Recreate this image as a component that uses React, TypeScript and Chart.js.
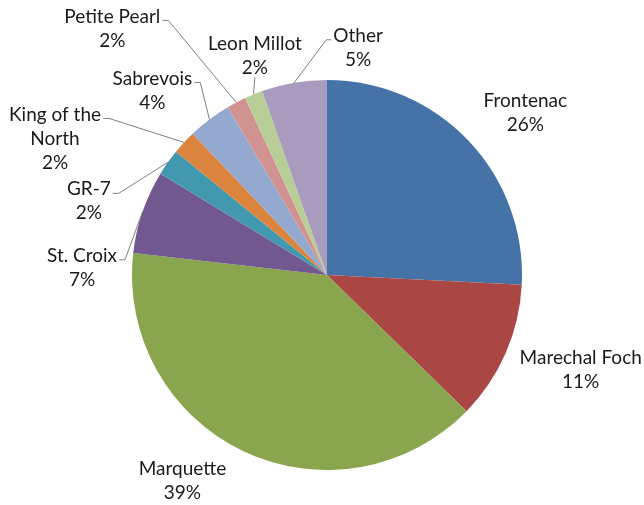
import React, { useEffect, useRef } from "react";
import { Chart, registerables } from "chart.js";

Chart.register(...registerables);

// ---- data ----
const categories = [
  "Frontenac",
  "Marechal Foch",
  "Marquette",
  "St. Croix",
  "GR-7",
  "King of the North",
  "Sabrevois",
  "Petite Pearl",
  "Leon Millot",
  "Other",
];
// slice sizes as drawn (percent of circle)
const shares = [25.8, 11.5, 39.5, 6.9, 2.2, 2.0, 3.6, 1.6, 1.5, 5.4];
// percentage labels as printed on the chart
const percentLabels = ["26%", "11%", "39%", "7%", "2%", "2%", "4%", "2%", "2%", "5%"];

// ---- styling / layout ----
const colors = [
  "#4572A7",
  "#AA4643",
  "#89A54E",
  "#71588F",
  "#4198AF",
  "#DB843D",
  "#93A9CF",
  "#D19392",
  "#B9CD96",
  "#A99BBD",
];
const nameLines: string[][] = categories.map((c) =>
  c === "King of the North" ? ["King of the", "North"] : [c]
);
// offset of label block centre from the slice's outer mid point
const labelOffsets: [number, number][] = [
  [57, -28],
  [75, 17],
  [-61, 30],
  [-60.5, 56],
  [-79, 39],
  [-129, -4],
  [-57, -29],
  [-124, -74],
  [1.4, -39],
  [64, -35],
];
const leaderStyles = ["none", "none", "none", "left", "left", "left", "left", "left", "below", "right"];

const FONT = '19px Lato, "Open Sans", sans-serif';
const LINE_H = 24;

const labelPlugin = {
  id: "pieLabels",
  afterDatasetsDraw(chart: any) {
    const ctx = chart.ctx as CanvasRenderingContext2D;
    const meta = chart.getDatasetMeta(0);
    ctx.save();
    ctx.font = FONT;
    meta.data.forEach((arc: any, i: number) => {
      const p = arc.getProps(["x", "y", "startAngle", "endAngle", "outerRadius"], true);
      const mid = (p.startAngle + p.endAngle) / 2;
      const ex = p.x + Math.cos(mid) * p.outerRadius;
      const ey = p.y + Math.sin(mid) * p.outerRadius;
      const [dx, dy] = labelOffsets[i];
      const cx = ex + dx;
      const cy = ey + dy;
      const lines = [...nameLines[i], percentLabels[i]];
      const top = cy - ((lines.length - 1) * LINE_H) / 2;
      ctx.fillStyle = "#1a1a1a";
      ctx.textAlign = "center";
      ctx.textBaseline = "middle";
      lines.forEach((t, k) => ctx.fillText(t, cx, top + k * LINE_H));

      const style = leaderStyles[i];
      if (style === "none") return;
      const w0 = ctx.measureText(lines[0]).width;
      ctx.strokeStyle = "#7f7f7f";
      ctx.lineWidth = 1;
      ctx.beginPath();
      if (style === "left") {
        const sx = cx + w0 / 2 + 2;
        const sy = top + 4;
        ctx.moveTo(sx, sy);
        ctx.lineTo(sx + 6, sy);
        ctx.lineTo(ex, ey);
      } else if (style === "right") {
        const sx = cx - w0 / 2 - 2;
        const sy = top + 4;
        ctx.moveTo(sx, sy);
        ctx.lineTo(sx - 5, sy);
        ctx.lineTo(ex, ey);
      } else {
        const sy = top + (lines.length - 1) * LINE_H + 10;
        ctx.moveTo(cx, sy);
        ctx.lineTo(ex, ey);
      }
      ctx.stroke();
    });
    ctx.restore();
  },
};

export default function App() {
  const ref = useRef<HTMLCanvasElement | null>(null);
  useEffect(() => {
    if (!ref.current) return;
    const chart = new Chart(ref.current, {
      type: "pie",
      data: {
        labels: categories,
        datasets: [
          {
            data: shares,
            backgroundColor: colors,
            borderWidth: 0,
          },
        ],
      },
      options: {
        animation: false,
        responsive: true,
        maintainAspectRatio: false,
        layout: { padding: { left: 132, right: 122, top: 80, bottom: 35 } },
        plugins: {
          legend: { display: false },
          tooltip: { enabled: false },
        },
      },
      plugins: [labelPlugin],
    });
    return () => chart.destroy();
  }, []);
  return (
    <div
      style={{
        position: "fixed",
        left: 0,
        top: 0,
        width: 644,
        height: 505,
        background: "#fff",
      }}
    >
      <canvas ref={ref} />
    </div>
  );
}
